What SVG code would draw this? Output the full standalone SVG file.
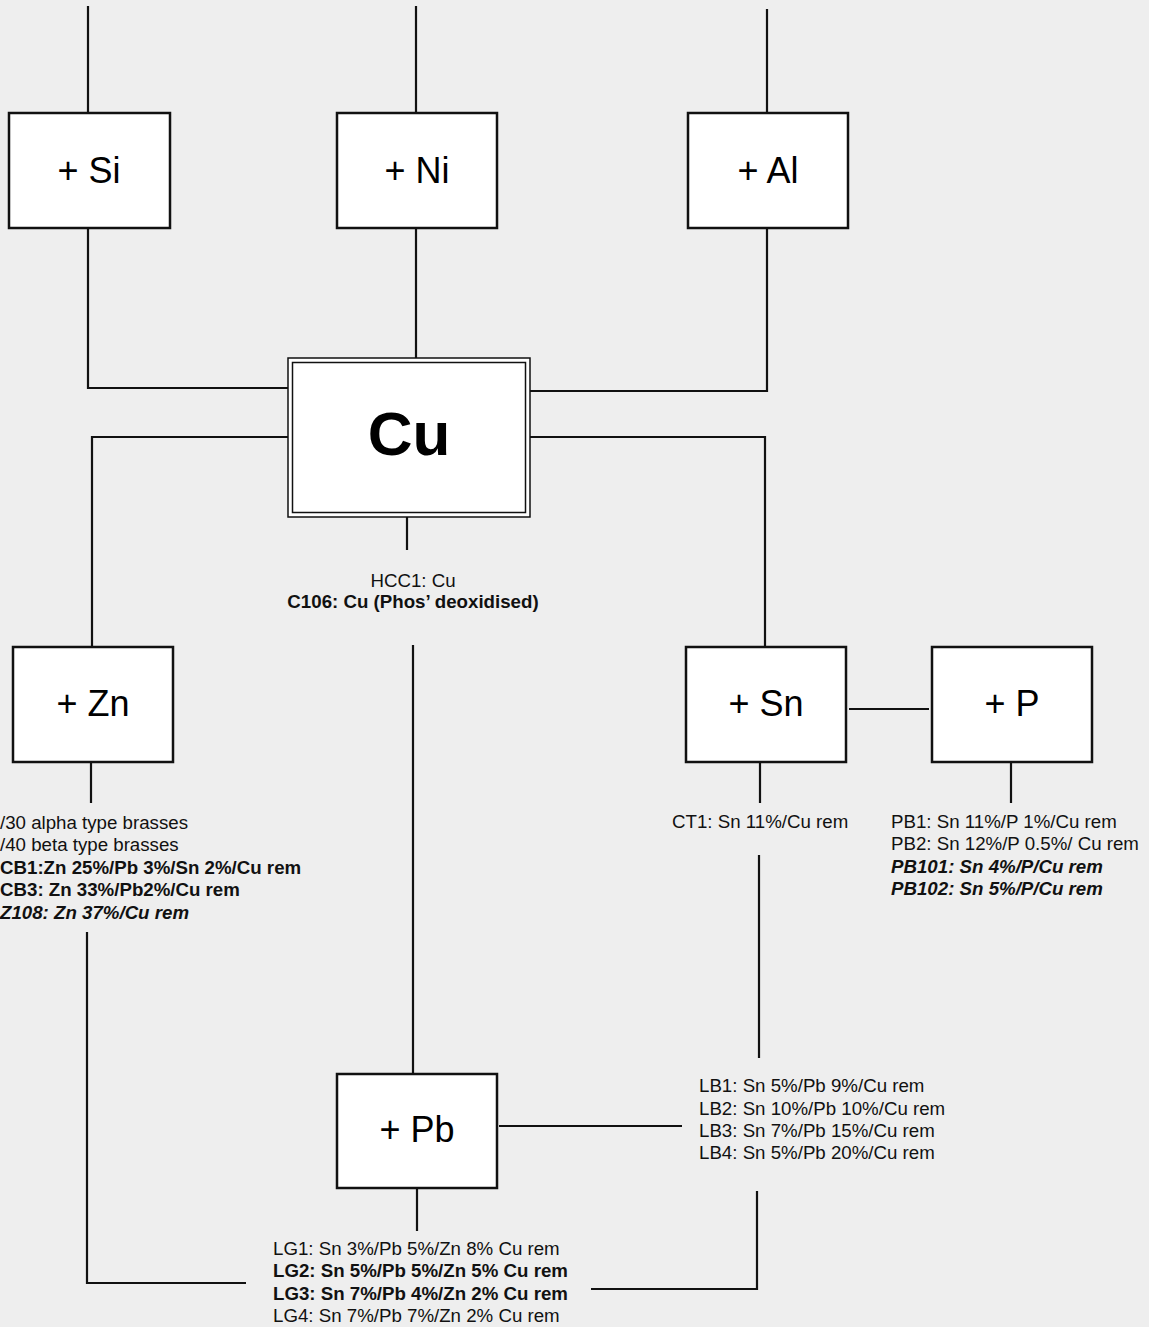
<svg xmlns="http://www.w3.org/2000/svg" width="1149" height="1327" viewBox="0 0 1149 1327">
<style>
.bg{fill:#eeeeee}
.box{fill:#ffffff;stroke:#111;stroke-width:2.5}
.dbl{fill:#ffffff;stroke:#111;stroke-width:1.5}
.lbl{font-family:"Liberation Sans",Arial,sans-serif;font-size:36px;fill:#000;text-anchor:middle}
.big{font-family:"Liberation Sans",Arial,sans-serif;font-size:62px;font-weight:bold;fill:#000;text-anchor:middle}
.t{font-family:"Liberation Sans",Arial,sans-serif;font-size:18.7px;fill:#111}
.b{font-weight:bold}
.bi{font-weight:bold;font-style:italic}
.mid{text-anchor:middle}
#connectors path{fill:none;stroke:#111;stroke-width:2.2}
</style>
<rect class="bg" x="0" y="0" width="1149" height="1327"/>
<g id="connectors">
<path d="M88 6V113"/>
<path d="M416 6V113"/>
<path d="M767 9V113"/>
<path d="M88 228V388H288"/>
<path d="M416 228V358"/>
<path d="M767 228V391H530"/>
<path d="M288 437H92V647"/>
<path d="M530 437H765V647"/>
<path d="M407 517V550"/>
<path d="M91 762V803"/>
<path d="M760 762V803"/>
<path d="M1011 762V803"/>
<path d="M849 709H929"/>
<path d="M413 645V1074"/>
<path d="M759 855V1058"/>
<path d="M499 1126H682"/>
<path d="M417 1188V1231"/>
<path d="M87 932V1283H246"/>
<path d="M757 1191V1289H591"/>
</g>
<g id="node-si"><rect class="box" x="9" y="113" width="161" height="115"/><text class="lbl" x="89" y="183">+ Si</text></g>
<g id="node-ni"><rect class="box" x="337" y="113" width="160" height="115"/><text class="lbl" x="417" y="183">+ Ni</text></g>
<g id="node-al"><rect class="box" x="688" y="113" width="160" height="115"/><text class="lbl" x="768" y="183">+ Al</text></g>
<g id="node-cu"><rect class="dbl" x="288" y="358" width="242" height="159"/><rect class="dbl" x="292.5" y="362.5" width="233" height="150"/><text class="big" x="409" y="455">Cu</text></g>
<g id="node-cu-text"><text class="t mid" x="413" y="587">HCC1: Cu</text><text class="t mid b" x="413" y="608">C106: Cu (Phos’ deoxidised)</text></g>
<g id="node-zn"><rect class="box" x="13" y="647" width="160" height="115"/><text class="lbl" x="93" y="716">+ Zn</text></g>
<g id="node-sn"><rect class="box" x="686" y="647" width="160" height="115"/><text class="lbl" x="766" y="716">+ Sn</text></g>
<g id="node-p"><rect class="box" x="932" y="647" width="160" height="115"/><text class="lbl" x="1012" y="716">+ P</text></g>
<g id="node-pb"><rect class="box" x="337" y="1074" width="160" height="114"/><text class="lbl" x="417" y="1142">+ Pb</text></g>
<g id="node-zn-text">
<text class="t" x="0" y="829">/30 alpha type brasses</text>
<text class="t" x="0" y="851">/40 beta type brasses</text>
<text class="t b" x="0" y="874">CB1:Zn 25%/Pb 3%/Sn 2%/Cu rem</text>
<text class="t b" x="0" y="896">CB3: Zn 33%/Pb2%/Cu rem</text>
<text class="t bi" x="0" y="919">Z108: Zn 37%/Cu rem</text>
</g>
<g id="node-sn-text"><text class="t" x="672" y="828">CT1: Sn 11%/Cu rem</text></g>
<g id="node-p-text">
<text class="t" x="891" y="828">PB1: Sn 11%/P 1%/Cu rem</text>
<text class="t" x="891" y="850">PB2: Sn 12%/P 0.5%/ Cu rem</text>
<text class="t bi" x="891" y="873">PB101: Sn 4%/P/Cu rem</text>
<text class="t bi" x="891" y="895">PB102: Sn 5%/P/Cu rem</text>
</g>
<g id="node-lb-text">
<text class="t" x="699" y="1092">LB1: Sn 5%/Pb 9%/Cu rem</text>
<text class="t" x="699" y="1115">LB2: Sn 10%/Pb 10%/Cu rem</text>
<text class="t" x="699" y="1137">LB3: Sn 7%/Pb 15%/Cu rem</text>
<text class="t" x="699" y="1159">LB4: Sn 5%/Pb 20%/Cu rem</text>
</g>
<g id="node-lg-text">
<text class="t" x="273" y="1255">LG1: Sn 3%/Pb 5%/Zn 8% Cu rem</text>
<text class="t b" x="273" y="1277">LG2: Sn 5%/Pb 5%/Zn 5% Cu rem</text>
<text class="t b" x="273" y="1300">LG3: Sn 7%/Pb 4%/Zn 2% Cu rem</text>
<text class="t" x="273" y="1322">LG4: Sn 7%/Pb 7%/Zn 2% Cu rem</text>
</g>
</svg>
